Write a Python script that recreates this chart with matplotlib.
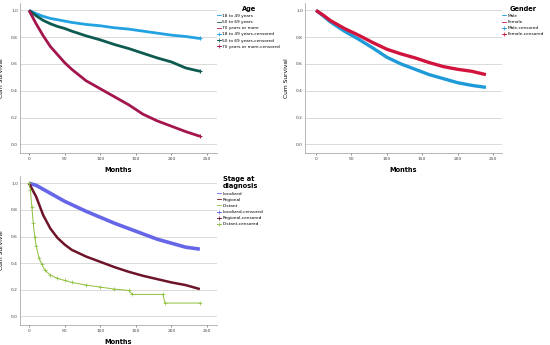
import matplotlib
matplotlib.use("Agg")
import matplotlib.pyplot as plt
from matplotlib.lines import Line2D

# data (months, cumulative survival)
months = [0, 10, 20, 30, 40, 50, 60, 80, 100, 120, 140, 160, 180, 200, 220, 240]

age_labels = ["18 to 49 years", "50 to 69 years", "70 years or more"]
age_18_49 = [1.0, 0.975, 0.955, 0.94, 0.93, 0.92, 0.91, 0.895, 0.885, 0.87, 0.86, 0.845, 0.83, 0.815, 0.805, 0.79]
age_50_69 = [1.0, 0.96, 0.925, 0.90, 0.88, 0.865, 0.845, 0.81, 0.78, 0.745, 0.715, 0.68, 0.645, 0.615, 0.57, 0.545]
age_70 = [1.0, 0.90, 0.81, 0.73, 0.67, 0.61, 0.56, 0.475, 0.415, 0.355, 0.295, 0.225, 0.175, 0.135, 0.095, 0.06]

gender_labels = ["Male", "Female"]
male = [1.0, 0.96, 0.915, 0.88, 0.845, 0.815, 0.785, 0.72, 0.65, 0.60, 0.56, 0.52, 0.49, 0.46, 0.44, 0.425]
female = [1.0, 0.965, 0.925, 0.895, 0.865, 0.84, 0.815, 0.76, 0.71, 0.675, 0.645, 0.61, 0.58, 0.56, 0.545, 0.52]

stage_labels = ["Localized", "Regional", "Distant"]
localized = [1.0, 0.985, 0.955, 0.925, 0.895, 0.865, 0.84, 0.79, 0.745, 0.70, 0.66, 0.62, 0.58, 0.55, 0.52, 0.505]
regional = [1.0, 0.90, 0.76, 0.66, 0.59, 0.54, 0.50, 0.45, 0.41, 0.37, 0.335, 0.305, 0.28, 0.255, 0.235, 0.205]
distant_months = [0, 2, 4, 6, 8, 10, 14, 18, 22, 30, 40, 50, 60, 80, 100, 120, 140, 145, 188, 191, 240]
distant = [1.0, 0.95, 0.82, 0.70, 0.60, 0.53, 0.44, 0.39, 0.35, 0.31, 0.285, 0.27, 0.255, 0.235, 0.22, 0.205, 0.195, 0.165, 0.165, 0.10, 0.10]

x_ticks = [0, 50, 100, 150, 200, 250]
y_ticks = [0.0, 0.2, 0.4, 0.6, 0.8, 1.0]

W, H = 550, 345


def make_axes(fig, left, right, top, bottom):
    ax = fig.add_axes([left / W, 1 - bottom / H, (right - left) / W, (bottom - top) / H])
    ax_px[ax] = (left, right)
    return ax


def style(ax, x0, x250):
    # pixel span -> months range
    ppm = (x250 - x0) / 250.0
    ax.set_xlim(-(x0 - ax_px[ax][0]) / ppm, (ax_px[ax][1] - x0) / ppm)
    ax.set_ylim(-0.065, 1.055)
    ax.set_xticks(x_ticks)
    ax.set_yticks(y_ticks)
    ax.set_xticklabels([str(t) for t in x_ticks])
    ax.set_yticklabels(["%.1f" % t for t in y_ticks])
    ax.tick_params(labelsize=3.2, length=1.5, width=0.4, colors="#444444", pad=1.5)
    ax.tick_params(axis="y", length=0)
    for s in ["top", "right"]:
        ax.spines[s].set_visible(False)
    for s in ["left", "bottom"]:
        ax.spines[s].set_color("#999999")
        ax.spines[s].set_linewidth(0.5)
    ax.grid(axis="y", color="#d4d4d4", linewidth=0.6)
    ax.set_axisbelow(True)
    ax.set_xlabel("Months", fontsize=4.8, fontweight="bold", labelpad=4)
    ax.set_ylabel("Cum Survival", fontsize=4.3, labelpad=5)


def add_legend(ax, title, labels, colors, y_anchor=0.985):
    handles = []
    for lab, c in zip(labels, colors):
        handles.append(Line2D([], [], color=c, lw=0.6, label=lab))
    for lab, c in zip(labels, colors):
        handles.append(Line2D([], [], color=c, lw=0.6, marker="+", markersize=2.2,
                              markeredgewidth=0.5, label=lab + "-censored"))
    leg = ax.legend(handles=handles, title=title, loc="upper left", bbox_to_anchor=(1.0, y_anchor),
                    frameon=False, fontsize=3.1, title_fontsize=4.8, handlelength=0.9,
                    handletextpad=0.25, labelspacing=0.5, borderaxespad=0, borderpad=0.1)
    leg.get_title().set_fontweight("bold")
    return leg


fig = plt.figure(figsize=(W / 100, H / 100), dpi=100)
fig.patch.set_facecolor("white")

ax_px = {}
ax1 = make_axes(fig, 20, 217, 3, 153)
ax2 = make_axes(fig, 305, 502, 3, 153)
ax3 = make_axes(fig, 20, 217, 176, 325)

# Age
age_colors = ["#22a2e2", "#0d5a50", "#a3154c"]
for vals, c in zip([age_18_49, age_50_69, age_70], age_colors):
    ax1.plot(months, vals, color=c, lw=2.0, solid_capstyle="butt")
    ax1.plot(months[-1:], vals[-1:], "+", color=c, ms=3, mew=0.8)
style(ax1, 29, 207)
add_legend(ax1, "Age", age_labels, age_colors)

# Gender
gender_colors = ["#1f9ad8", "#d0143e"]
for vals, c in zip([male, female], gender_colors):
    ax2.plot(months, vals, color=c, lw=2.4, solid_capstyle="butt")
style(ax2, 316, 493)
add_legend(ax2, "Gender", gender_labels, gender_colors)

# Stage at diagnosis
stage_colors = ["#6666e8", "#6e1428", "#8dc03c"]
ax3.plot(months, localized, color=stage_colors[0], lw=2.6, solid_capstyle="butt")
ax3.plot(months, regional, color=stage_colors[1], lw=1.8, solid_capstyle="butt")
ax3.plot(distant_months, distant, color=stage_colors[2], lw=0.7, marker="+", ms=2.2, mew=0.5)
style(ax3, 29, 207)
add_legend(ax3, "Stage at\ndiagnosis", stage_labels, stage_colors, y_anchor=1.0)

fig.savefig("out.png", dpi=100)
